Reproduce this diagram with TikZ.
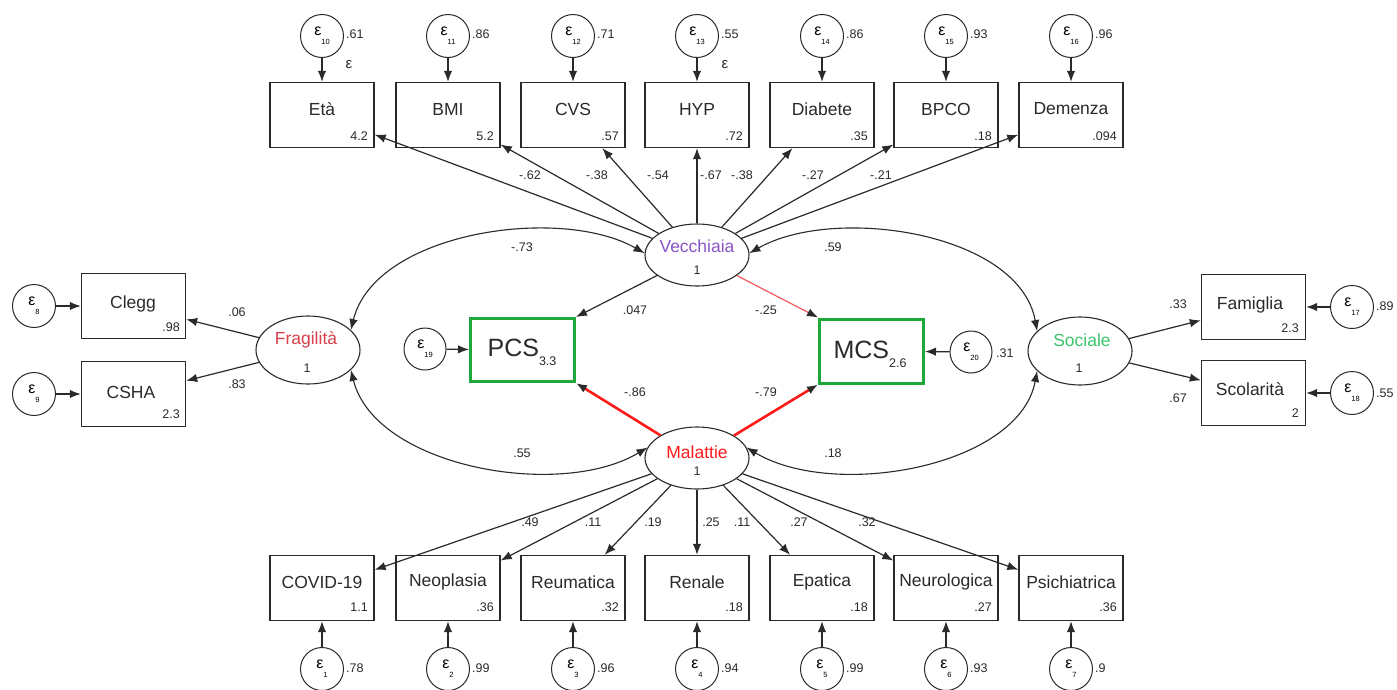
\documentclass[tikz,border=0pt]{standalone}
\usepackage{fontspec}
\setmainfont{Liberation Sans}
\usetikzlibrary{arrows.meta,shapes.geometric,calc}
\definecolor{ln}{HTML}{2A2A2A}
\definecolor{grn}{HTML}{1EA83C}
\definecolor{lred}{HTML}{F25A5A}
\definecolor{mred}{HTML}{FF1A1A}
\definecolor{fred}{HTML}{D8404C}
\definecolor{purp}{HTML}{8A55C6}
\definecolor{sgrn}{HTML}{3CC46E}
\newcommand\errlab[1]{\raisebox{4pt}{\fontsize{16}{16}\selectfont ε}\raisebox{-5pt}{\fontsize{7.5}{8}\selectfont #1}}
\begin{document}
\begin{tikzpicture}[x=1pt,y=-1pt,
  obs/.style={draw=ln,line width=1.4pt,minimum width=104pt,minimum height=65pt,inner sep=0pt},
  lat/.style={draw=ln,line width=1.1pt,ellipse,minimum width=104pt,minimum height=62pt,inner sep=0pt},
  err/.style={draw=ln,line width=1pt,circle,minimum size=43pt,inner sep=0pt},
  lbl/.style={font=\fontsize{17.5}{19}\selectfont,text=ln,inner sep=0pt},
  val/.style={font=\fontsize{12.5}{13}\selectfont,text=ln,inner sep=0pt},
  arr/.style={draw=ln,line width=1.2pt,-{Latex[length=11pt,width=8.5pt,color=ln]}},
  cov/.style={draw=ln,line width=1.1pt,{Latex[length=11pt,width=8.5pt,color=ln]}-{Latex[length=11pt,width=8.5pt,color=ln]}},
]
\useasboundingbox (0,0) rectangle (1397,689);
\fill[white] (0,0) rectangle (1397,689);

% latent variables
\node[lat] (vec) at (697,255) {};
\node[lbl,text=purp] (vect) at (697,246) {Vecchiaia};
\node[val] (vec1) at (697,270) {1};
\node[lat] (mal) at (697,458) {};
\node[lbl,text=mred] (malt) at (697,452) {Malattie};
\node[val] (mal1) at (697,471) {1};
\node[lat,minimum height=68pt] (fra) at (308,350) {};
\node[lbl,text=fred] (frat) at (306,340) {Fragilità};
\node[val] (fra1) at (307,368) {1};
\node[lat,minimum height=68pt] (soc) at (1080,351) {};
\node[lbl,text=sgrn] (soct) at (1082,340) {Sociale};
\node[val] (soc1) at (1079,368) {1};

% top indicators
\foreach \i/\x/\t/\v/\e/\ev in {1/322/Età/4.2/10/.61,2/448/BMI/5.2/11/.86,3/573/CVS/.57/12/.71,4/697/HYP/.72/13/.55,5/822/Diabete/.35/14/.86,6/946/BPCO/.18/15/.93,7/1071/Demenza/.094/16/.96}{
  \node[obs] (t\i) at (\x,115) {};
  \node[lbl] (t\i-l) at (\x,109) {\t};
  \node[val,anchor=east] (t\i-v) at (\x+46,136) {\v};
  \node[err] (te\i) at (\x,36) {\errlab{\e}};
  \node[val,anchor=west] (te\i-v) at (\x+24,34) {\ev};
  \draw[arr] (te\i) -- (t\i);
  \draw[arr] (vec) -- (t\i);
}
% bottom indicators
\foreach \i/\x/\t/\v/\e/\ev in {1/322/COVID-19/1.1/1/.78,2/448/Neoplasia/.36/2/.99,3/573/Reumatica/.32/3/.96,4/697/Renale/.18/4/.94,5/822/Epatica/.18/5/.99,6/946/Neurologica/.27/6/.93,7/1071/Psichiatrica/.36/7/.9}{
  \node[obs] (b\i) at (\x,588) {};
  \node[lbl] (b\i-l) at (\x,582) {\t};
  \node[val,anchor=east] (b\i-v) at (\x+46,607) {\v};
  \node[err] (be\i) at (\x,669) {\errlab{\e}};
  \node[val,anchor=west] (be\i-v) at (\x+24,668) {\ev};
  \draw[arr] (be\i) -- (b\i);
  \draw[arr] (mal) -- (b\i);
}

% loading coefficients
\foreach \x/\c in {530/-.62,597/-.38,658/-.54,711/-.67,742/-.38,813/-.27,881/-.21}
  {\node[val] (tc\x) at (\x,175) {\c};}
\foreach \x/\c in {530/.49,593/.11,653/.19,711/.25,742/.11,799/.27,867/.32}
  {\node[val] (bc\x) at (\x,522) {\c};}

% left block
\node[obs] (clegg) at (133.5,306) {};
\node[lbl] (clegg-l) at (133,304) {Clegg};
\node[val,anchor=east] (clegg-v) at (180,327) {.98};
\node[obs] (csha) at (133.5,394) {};
\node[lbl] (csha-l) at (131,392) {CSHA};
\node[val,anchor=east] (csha-v) at (180,414) {2.3};
\node[err] (e8) at (34,306) {\errlab{8}};
\node[err] (e9) at (34,394) {\errlab{9}};
\draw[arr] (e8) -- (clegg);
\draw[arr] (e9) -- (csha);
\draw[arr] (fra) -- (clegg);
\draw[arr] (fra) -- (csha);
\node[val] (c06) at (237,312) {.06};
\node[val] (c83) at (237,384) {.83};

% right block
\node[obs] (fam) at (1253.5,307) {};
\node[lbl] (fam-l) at (1250,305) {Famiglia};
\node[val,anchor=east] (fam-v) at (1299,328) {2.3};
\node[obs] (sco) at (1253.5,393) {};
\node[lbl] (sco-l) at (1250,389) {Scolarità};
\node[val,anchor=east] (sco-v) at (1299,413) {2};
\node[err] (e17) at (1352,307) {\errlab{17}};
\node[err] (e18) at (1352,393) {\errlab{18}};
\node[val,anchor=west] (e17-v) at (1376,306) {.89};
\node[val,anchor=west] (e18-v) at (1376,393) {.55};
\draw[arr] (e17) -- (fam);
\draw[arr] (e18) -- (sco);
\draw[arr] (soc) -- (fam);
\draw[arr] (soc) -- (sco);
\node[val] (c33) at (1178,304) {.33};
\node[val] (c67) at (1178,398) {.67};

% outcomes
\node[draw=grn,line width=3pt,minimum width=104pt,minimum height=63pt,inner sep=0pt] (pcs) at (522.5,350) {};
\node[inner sep=0pt,text=ln] (pcs-l) at (522,352) {\fontsize{25}{26}\selectfont PCS\raisebox{-9pt}{\fontsize{12.5}{13}\selectfont 3.3}};
\node[draw=grn,line width=3pt,minimum width=104pt,minimum height=64pt,inner sep=0pt] (mcs) at (871.5,351) {};
\node[inner sep=0pt,text=ln] (mcs-l) at (870,354) {\fontsize{25}{26}\selectfont MCS\raisebox{-9pt}{\fontsize{12.5}{13}\selectfont 2.6}};
\node[err,minimum size=42pt] (e19) at (425,349) {\errlab{19}};
\node[err,minimum size=42pt] (e20) at (971,352) {\errlab{20}};
\node[val,anchor=west] (e20-v) at (996,353) {.31};
\draw[arr] (e19) -- (pcs);
\draw[arr] (e20) -- (mcs);
\draw[arr] (vec) -- (pcs.north east);
\draw[arr,draw=lred,line width=1.2pt] (vec) -- (mcs.north west);
\draw[arr,draw=mred,line width=2.6pt] (mal) -- (pcs.south east);
\draw[arr,draw=mred,line width=2.6pt] (mal) -- (mcs.south west);
\node[val] (c047) at (635,310) {.047};
\node[val] (c25) at (766,310) {-.25};
\node[val] (c86) at (635,392) {-.86};
\node[val] (c79) at (766,392) {-.79};

% covariances
\draw[cov] (fra.25) .. controls (375,232) and (560,205) .. (vec.178);
\draw[cov] (fra.-25) .. controls (375,467) and (560,500) .. (mal.168);
\draw[cov] (soc.155) .. controls (1019,232) and (834,205) .. (vec.2);
\draw[cov] (soc.205) .. controls (1019,467) and (834,500) .. (mal.12);
\node[val] (c73) at (522,247) {-.73};
\node[val] (c55) at (522,453) {.55};
\node[val] (c59) at (833,247) {.59};
\node[val] (c18) at (833,453) {.18};

% stray epsilons
\node[inner sep=0pt,text=ln,font=\fontsize{15}{15}\selectfont] (s1) at (349,65) {ε};
\node[inner sep=0pt,text=ln,font=\fontsize{15}{15}\selectfont] (s2) at (725,65) {ε};
\end{tikzpicture}
\end{document}
